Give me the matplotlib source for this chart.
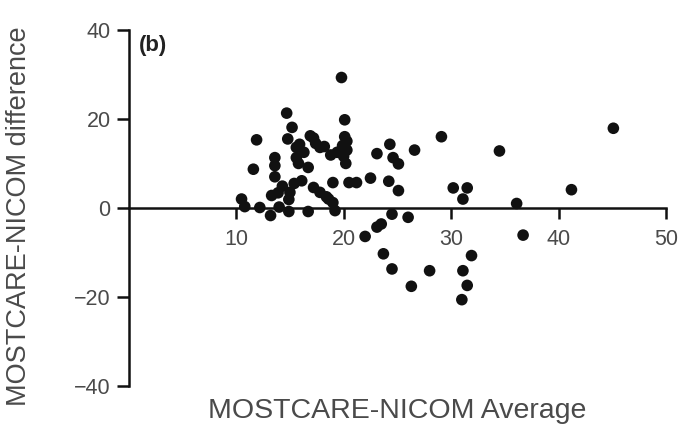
import matplotlib
matplotlib.use("Agg")
import matplotlib.pyplot as plt

plt.rcParams['font.family'] = ['Liberation Sans', 'DejaVu Sans']

# Bland-Altman style points: (average, difference)
avg = [10.5, 10.8, 11.6, 11.9, 12.2, 13.2, 13.3, 13.6, 13.6, 13.6, 13.9, 14.0,
       14.3, 14.7, 14.8, 14.9, 14.9, 15.0, 15.2, 15.4, 15.6, 15.6, 15.9, 16.1,
       16.7, 16.9, 16.7, 17.2, 17.4, 17.8, 17.8, 18.2, 18.4, 18.8, 19.0, 19.0,
       19.2, 19.4, 19.8, 20.1, 20.1, 20.3, 19.9, 20.3, 20.0, 20.2, 20.5, 21.2,
       22.5, 22.0, 23.1, 23.1, 23.5, 23.7, 24.3, 24.2, 24.5, 24.5, 24.6, 25.1,
       25.1, 26.0, 26.3, 26.6, 28.0, 29.1, 30.2, 31.5, 31.1, 31.1, 31.9, 31.5,
       31.0, 34.5, 36.1, 36.7, 41.2, 45.1, 16.3, 15.8, 17.2, 18.6]
diff = [2.0, 0.3, 8.7, 15.3, 0.1, -1.7, 2.8, 11.3, 9.5, 7.0, 3.4, 0.2,
        4.9, 21.3, 15.5, 1.9, -0.8, 3.5, 18.1, 5.5, 13.6, 11.3, 14.3, 6.1,
        9.1, 16.2, -0.8, 4.6, 14.5, 13.6, 3.5, 13.8, 2.5, 11.9, 5.7, 1.2,
        -0.6, 12.5, 29.3, 19.8, 16.0, 15.0, 14.0, 13.0, 11.6, 10.0, 5.7, 5.7,
        6.7, -6.4, 12.2, -4.3, -3.6, -10.3, 14.3, 6.0, -1.4, -13.7, 11.3, 9.9,
        3.9, -2.1, -17.6, 13.0, -14.1, 16.0, 4.5, 4.5, 2.0, -14.1, -10.7, -17.4,
        -20.6, 12.8, 1.0, -6.1, 4.1, 17.9, 12.5, 10.0, 15.7, 2.0]

xticks = [10, 20, 30, 40, 50]
yticks = [-40, -20, 0, 20, 40]

fig = plt.figure(figsize=(6.81, 4.33), dpi=100)
ax = fig.add_axes([0.189, 0.1085, 0.789, 0.8225])

ax.scatter(avg, diff, s=70, color='#111111', edgecolors='none', zorder=3, clip_on=False)

ax.set_xlim(0, 50)
ax.set_ylim(-40, 40)
ax.spines['top'].set_visible(False)
ax.spines['right'].set_visible(False)
ax.spines['bottom'].set_position(('data', 0))
for side in ['bottom', 'left']:
    ax.spines[side].set_linewidth(1.8)
    ax.spines[side].set_color('#111111')

ax.set_xticks(xticks)
ax.set_yticks(yticks)
ax.set_yticklabels(['\u221240', '\u221220', '0', '20', '40'])
ax.tick_params(axis='x', direction='out', length=8, width=1.8, pad=7,
               labelsize=15.5, labelcolor='#4a4a4a', color='#111111')
ax.tick_params(axis='y', direction='out', length=9, width=1.8, pad=4,
               labelsize=15.5, labelcolor='#4a4a4a', color='#111111')

fig.text(0.583, 0.05, 'MOSTCARE-NICOM Average', ha='center', va='center',
         fontsize=20.5, color='#4a4a4a')
fig.text(0.028, 0.50, 'MOSTCARE-NICOM difference', ha='center', va='center',
         rotation=90, fontsize=19.5, color='#4a4a4a')
ax.text(0.018, 0.985, '(b)', transform=ax.transAxes, ha='left', va='top',
        fontsize=16, fontweight='bold', color='#222222')

fig.savefig('out.png', dpi=100)
